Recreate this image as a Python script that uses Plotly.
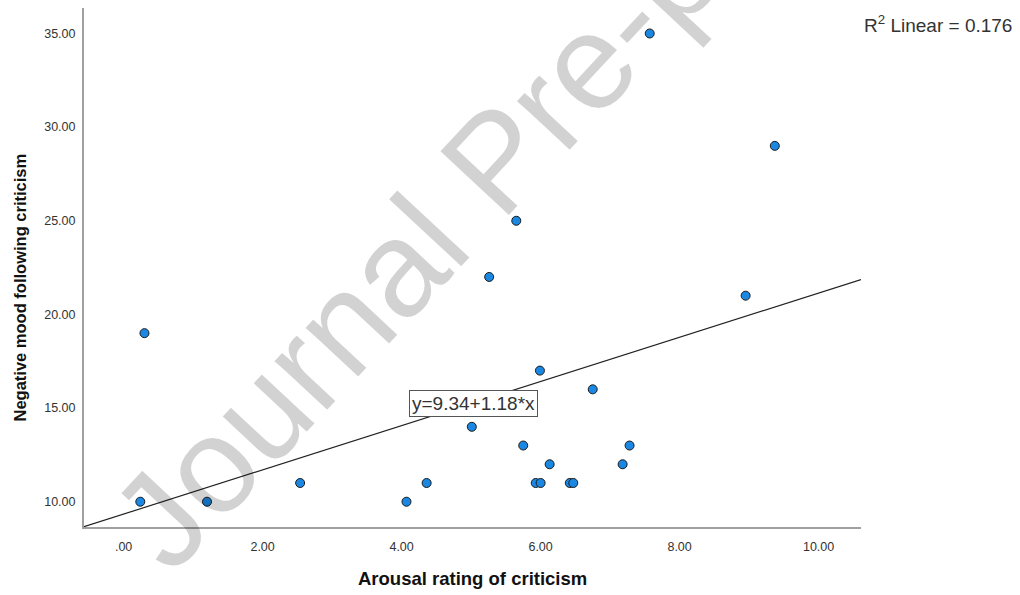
import plotly.graph_objects as go

# ---- data ----
arousal = [0.24, 0.30, 1.20, 2.54, 4.07, 4.36, 5.01, 5.75, 5.99, 5.93, 6.00,
           6.13, 6.42, 6.47, 6.75, 7.18, 7.28, 8.95, 9.37, 7.57, 5.65, 5.26]
neg_mood = [10, 19, 10, 11, 10, 11, 14, 13, 17, 11, 11,
            12, 11, 11, 16, 12, 13, 21, 29, 35, 25, 22]

fit_intercept = 9.34
fit_slope = 1.18
r2_linear = 0.176

x_tickvals = [0, 2, 4, 6, 8, 10]
x_ticktext = [".00", "2.00", "4.00", "6.00", "8.00", "10.00"]
y_tickvals = [10, 15, 20, 25, 30, 35]
y_ticktext = ["10.00", "15.00", "20.00", "25.00", "30.00", "35.00"]

x_title = "Arousal rating of criticism"
y_title = "Negative mood following criticism"
watermark = "Journal Pre-proof"

# ---- layout geometry ----
W, H = 1020, 595
ML, MR, MT, MB = 84, 159, 8, 68
PW, PH = W - ML - MR, H - MT - MB
x_range = [-0.57, 10.61]
y_range = [8.65, 36.36]

def px(xp):
    return (xp - ML) / PW

def py(yp):
    return (H - MB - yp) / PH

FONT = "Liberation Sans, Arial, sans-serif"

fig = go.Figure()

# regression line across the axis range
line_x = list(x_range)
line_y = [fit_intercept + fit_slope * v for v in line_x]
fig.add_trace(go.Scatter(
    x=line_x, y=line_y, mode="lines",
    line=dict(color="#222222", width=1.2),
    hoverinfo="skip", showlegend=False, cliponaxis=True))

fig.add_trace(go.Scatter(
    x=arousal, y=neg_mood, mode="markers",
    marker=dict(size=9, color="#1a88e3", line=dict(color="#1b1b1b", width=1)),
    showlegend=False))

eq_text = f"y={fit_intercept:.2f}+{fit_slope:.2f}*x"

annotations = [
    # watermark
    dict(text=watermark, xref="paper", yref="paper", x=px(495), y=py(161),
         xanchor="center", yanchor="middle", textangle=-47, showarrow=False,
         font=dict(family=FONT, size=136, color="rgba(0,0,0,0.175)")),
    # equation box
    dict(text=eq_text, xref="paper", yref="paper", x=px(473.3), y=py(403.8),
         xanchor="center", yanchor="middle", showarrow=False,
         font=dict(family=FONT, size=19, color="#333333"),
         bgcolor="white", bordercolor="#555555", borderwidth=1, borderpad=2),
    # R2 label
    dict(text=f"R<sup>2</sup> Linear = {r2_linear:.3f}", xref="paper", yref="paper",
         x=px(1014), y=py(24), xanchor="right", yanchor="middle", showarrow=False,
         font=dict(family=FONT, size=19, color="#333333")),
    # axis titles
    dict(text=f"<b>{x_title}</b>", xref="paper", yref="paper", x=px(472.6), y=py(578),
         xanchor="center", yanchor="middle", showarrow=False,
         font=dict(family=FONT, size=18.5, color="#111111")),
    dict(text=f"<b>{y_title}</b>", xref="paper", yref="paper", x=px(19), y=py(287.5),
         xanchor="center", yanchor="middle", textangle=-90, showarrow=False,
         font=dict(family=FONT, size=16.5, color="#111111")),
]

fig.update_layout(
    width=W, height=H,
    margin=dict(l=ML, r=MR, t=MT, b=MB, pad=0),
    paper_bgcolor="white", plot_bgcolor="white",
    annotations=annotations,
    xaxis=dict(range=x_range, tickvals=x_tickvals, ticktext=x_ticktext,
               showgrid=False, zeroline=False, showline=True, linecolor="#a0a0a0",
               linewidth=2, ticks="outside", ticklen=7, tickcolor="rgba(0,0,0,0)",
               tickfont=dict(family=FONT, size=12.5, color="#333333")),
    yaxis=dict(range=y_range, tickvals=y_tickvals, ticktext=y_ticktext,
               showgrid=False, zeroline=False, showline=True, linecolor="#a0a0a0",
               linewidth=2, ticks="outside", ticklen=4, tickcolor="rgba(0,0,0,0)",
               tickfont=dict(family=FONT, size=12.5, color="#333333")),
)

fig.write_html("out.html")
